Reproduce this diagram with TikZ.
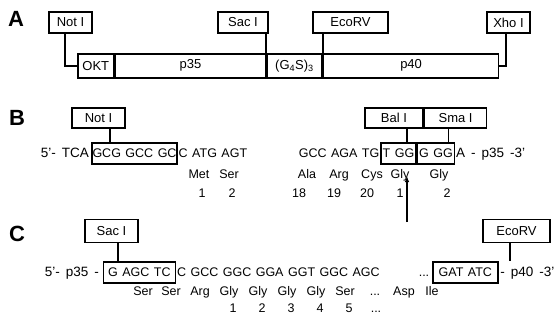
\documentclass[tikz,border=0pt]{standalone}
\usepackage{fontspec}
\setmainfont{Liberation Sans}
\usetikzlibrary{arrows.meta, positioning, calc}

\newcommand{\seqfont}{\fontsize{12.5}{14}\selectfont\spaceskip=4.5pt\relax}
\newcommand{\flankfont}{\fontsize{13.5}{14}\selectfont\spaceskip=6pt\relax}
\newcommand{\labfont}{\fontsize{13}{14}\selectfont}

\begin{document}
\begin{tikzpicture}[
    x=1pt, y=-1pt,
    line width=1.6pt,
    enz/.style={rectangle, draw, minimum height=21pt, inner sep=0pt, font=\labfont},
    seg/.style={rectangle, draw, minimum height=24pt, inner sep=0pt, font=\labfont},
    seq/.style={inner sep=0pt, anchor=base west, font=\seqfont},
    flank/.style={seq, font=\flankfont},
    site/.style={seq, draw, text height=9pt, text depth=2pt, inner xsep=0.6pt, inner ysep=5pt},
    aa/.style={inner sep=0pt, anchor=base, font=\seqfont},
    panel/.style={font=\fontsize{22}{22}\selectfont\bfseries},
    cut/.style={-{Latex[length=6pt, width=4.5pt]}, line width=1.2pt}
]
\useasboundingbox (0,0) rectangle (557,322);

\node[panel] (labA) at (16,19) {A};
\node[enz, minimum width=43pt] (notA) at (70.5,22.5) {Not I};
\node[enz, minimum width=50pt] (sacA) at (243,22.5) {Sac I};
\node[enz, minimum width=75pt] (ecoA) at (350.5,22.5) {EcoRV};
\node[enz, minimum width=43pt] (xhoA) at (508.5,22.5) {Xho I};

\node[seg, minimum width=36pt, anchor=north west] (okt) at (77,53) {OKT};
\node[seg, minimum width=150pt, right=0pt of okt] (p35) {p35};
\node[seg, minimum width=55pt, right=0pt of p35] (gs) {(G\textsubscript{4}S)\textsubscript{3}};
\node[seg, minimum width=175pt, right=0pt of gs] (p40) {p40};

\draw ([xshift=-5.5pt]notA.south) |- (okt.west);
\draw (sacA.south -| gs.north west) -- (gs.north west);
\draw (ecoA.south -| p40.north west) -- (p40.north west);
\draw ([xshift=-2.5pt]xhoA.south) |- (p40.east);

\node[panel] (labB) at (17,118) {B};
\node[enz, minimum width=53pt, minimum height=20pt] (notB) at (98.5,118) {Not I};
\node[enz, minimum width=58pt, minimum height=20pt] (balB) at (394,118) {Bal I};
\node[enz, minimum width=62pt, minimum height=20pt, right=0pt of balB] (smaB) {Sma I};

\node[flank] (seqB1) at (40,157) {5'- TCA};
\node[site, base right=1.5pt of seqB1] (notsB) {GCG GCC GC};
\node[seq, base right=0pt of notsB] (seqB2) {C ATG AGT};
\node[seq] (seqB3) at (298,157) {GCC AGA TG};
\node[site, minimum width=35pt, base right=0pt of seqB3] (balsB) {T GG};
\node[site, minimum width=37pt, base right=0pt of balsB] (smasB) {G GG};
\node[flank, base right=0pt of smasB] (seqB4) {A - p35 -3'};

\draw ([xshift=11.5pt]notB.south) -- ([xshift=11.5pt]notB.south |- notsB.north);
\draw ([xshift=13pt]balB.south) -- ([xshift=13pt]balB.south |- balsB.north);
\draw ([xshift=-7pt]smaB.south) -- ([xshift=-7pt]smaB.south |- smasB.north);

\node[aa] (metB) at (199,178) {Met};
\node[aa] (serB) at (229,178) {Ser};
\node[aa] (alaB) at (307,178) {Ala};
\node[aa] (argB) at (339,178) {Arg};
\node[aa] (cysB) at (372,178) {Cys};
\node[aa] (glyB1) at (400,178) {Gly};
\node[aa] (glyB2) at (439,178) {Gly};

\node[aa] (numB1) at (202,197) {1};
\node[aa] (numB2) at (232,197) {2};
\node[aa] (numB18) at (299,197) {18};
\node[aa] (numB19) at (334,197) {19};
\node[aa] (numB20) at (367,197) {20};
\node[aa] (numBg1) at (400,197) {1};
\node[aa] (numBg2) at (447,197) {2};

\coordinate (joinFoot) at (407,222);
\coordinate (joinTip) at (407,176);
\draw[cut] (joinFoot) -- (joinTip);

\node[panel] (labC) at (17,234) {C};
\node[enz, minimum width=53pt, minimum height=23pt] (sacC) at (111.5,231) {Sac I};
\node[enz, minimum width=67pt, minimum height=23pt] (ecoC) at (516.5,231) {EcoRV};

\node[flank] (seqC1) at (44,276) {5'- p35 -};
\node[site, minimum width=72pt, base right=3pt of seqC1] (sacsC) {G AGC TC};
\node[seq, base right=0pt of sacsC] (seqC2) {C GCC GGC GGA GGT GGC AGC};
\node[site, minimum width=65pt] (ecosC) at (432,276) {GAT ATC};
\node[seq, base left=2pt of ecosC] (dotsSeqC) {...};
\node[flank, base right=1pt of ecosC] (seqC3) {- p40 -3'};

\draw ([xshift=6.5pt]sacC.south) -- ([xshift=6.5pt]sacC.south |- sacsC.north);
\draw ([xshift=-6.5pt]ecoC.south) -- ([xshift=-6.5pt]ecoC.south |- ecosC.north);

\node[aa] (serC1) at (143,295) {Ser};
\node[aa] (serC2) at (171,295) {Ser};
\node[aa] (argC) at (200,295) {Arg};
\node[aa] (glyC1) at (229,295) {Gly};
\node[aa] (glyC2) at (258,295) {Gly};
\node[aa] (glyC3) at (287,295) {Gly};
\node[aa] (glyC4) at (316,295) {Gly};
\node[aa] (serC3) at (345,295) {Ser};
\node[aa] (dotsC) at (375,295) {...};
\node[aa] (aspC) at (404,295) {Asp};
\node[aa] (ileC) at (432,295) {Ile};

\node[aa] (numC1) at (233,312) {1};
\node[aa] (numC2) at (262,312) {2};
\node[aa] (numC3) at (291,312) {3};
\node[aa] (numC4) at (320,312) {4};
\node[aa] (numC5) at (349,312) {5};
\node[aa] (numCd) at (376,312) {...};

\end{tikzpicture}
\end{document}
